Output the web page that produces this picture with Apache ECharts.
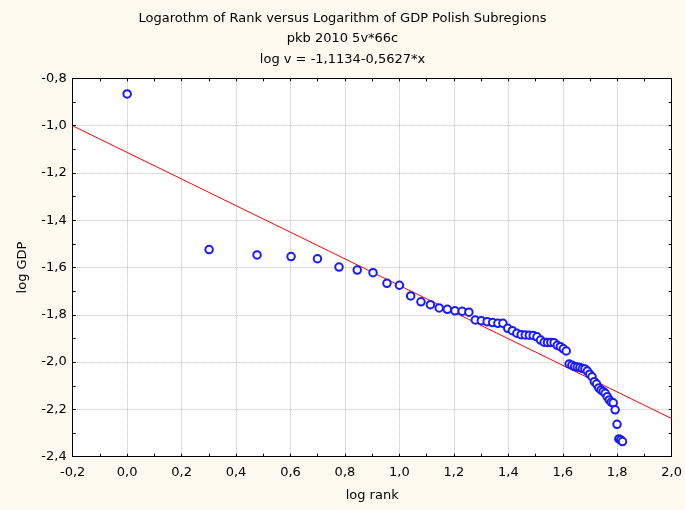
<!DOCTYPE html>
<html>
<head>
<meta charset="utf-8">
<script src="https://cdn.jsdelivr.net/npm/echarts@6/dist/echarts.min.js"></script>
<style>
html,body{margin:0;padding:0;background:#fdf9ee;}
#c{width:685px;height:510px;}
</style>
</head>
<body>
<div id="c"></div>
<script>
// Data: rank of subregion (1..66) and log GDP
var ranks = [];
for (var i = 1; i <= 66; i++) ranks.push(i);
var logGDP = [
  -0.866, -1.524, -1.547, -1.554, -1.563, -1.598, -1.611, -1.622, -1.667, -1.675,
  -1.720, -1.745, -1.757, -1.771, -1.777, -1.783, -1.785, -1.789, -1.822, -1.825,
  -1.829, -1.833, -1.836, -1.836, -1.857, -1.867, -1.878, -1.884, -1.885, -1.886,
  -1.887, -1.893, -1.907, -1.916, -1.917, -1.917, -1.918, -1.929, -1.935, -1.944,
  -1.953, -2.008, -2.013, -2.019, -2.021, -2.023, -2.027, -2.029, -2.038, -2.051,
  -2.062, -2.083, -2.093, -2.109, -2.118, -2.124, -2.132, -2.146, -2.160, -2.169,
  -2.172, -2.202, -2.263, -2.325, -2.329, -2.336
];
// Regression from the title: log v = -1.1134 - 0.5627*x
var fitIntercept = -1.1134;
var fitSlope = -0.5627;
var xRange = [-0.2, 2.0];
var yRange = [-2.4, -0.8];
var tickStep = 0.2;
var titleLines = [
  'Logarothm of Rank versus Logarithm of GDP Polish Subregions',
  'pkb 2010 5v*66c',
  'log v = -1,1134-0,5627*x'
];

var points = ranks.map(function (r, i) { return [Math.log10(r), logGDP[i]]; });
var fitLine = xRange.map(function (x) { return [x, fitIntercept + fitSlope * x]; });

var fmt = function (v) { return (Math.round(v * 10) / 10).toFixed(1).replace('.', ','); };
var font = '"DejaVu Sans", Arial, sans-serif';

function mkAxis(pos, isX, main) {
  var ax = {
    type: 'value',
    position: pos,
    min: isX ? xRange[0] : yRange[0],
    max: isX ? xRange[1] : yRange[1],
    interval: tickStep,
    axisLine: { show: true, onZero: false, lineStyle: { color: '#000', width: 1 } },
    axisTick: { show: true, inside: true, length: 3, lineStyle: { color: '#000' } },
    minorTick: { show: true, splitNumber: 2, length: 3, lineStyle: { color: '#000' } },
    axisLabel: { show: main, formatter: fmt, color: '#000', fontSize: 13, fontFamily: font, margin: isX ? 9 : 6 },
    splitLine: { show: main, lineStyle: { color: '#bdbdbd', type: [1, 1], width: 1 } },
    minorSplitLine: { show: false }
  };
  if (main) {
    ax.name = isX ? 'log rank' : 'log GDP';
    ax.nameLocation = 'middle';
    ax.nameGap = isX ? 32 : 44;
    ax.nameTextStyle = { color: '#000', fontSize: 13, fontFamily: font };
  }
  return ax;
}

var titles = titleLines.map(function (t, i) {
  return {
    text: t,
    left: 'center',
    top: 7 + i * 20.5,
    textStyle: { color: '#000', fontSize: 13, fontWeight: 'normal', fontFamily: font }
  };
});

var chart = echarts.init(document.getElementById('c'), null, { renderer: 'canvas' });
chart.setOption({
  backgroundColor: '#fdf9ee',
  animation: false,
  title: titles,
  grid: { left: 72.7, top: 78.3, right: 7.3, bottom: 53.3, show: true, backgroundColor: '#ffffff', borderWidth: 0 },
  xAxis: [mkAxis('bottom', true, true), mkAxis('top', true, false)],
  yAxis: [mkAxis('left', false, true), mkAxis('right', false, false)],
  series: [
    {
      type: 'line',
      data: fitLine,
      showSymbol: false,
      symbol: 'none',
      lineStyle: { color: '#ff0000', width: 1 },
      z: 2
    },
    {
      type: 'scatter',
      data: points,
      symbol: 'emptyCircle',
      symbolSize: 7.5,
      itemStyle: { color: '#1a1aff', borderWidth: 1, opacity: 1 },
      z: 3
    }
  ]
});
</script>
</body>
</html>
